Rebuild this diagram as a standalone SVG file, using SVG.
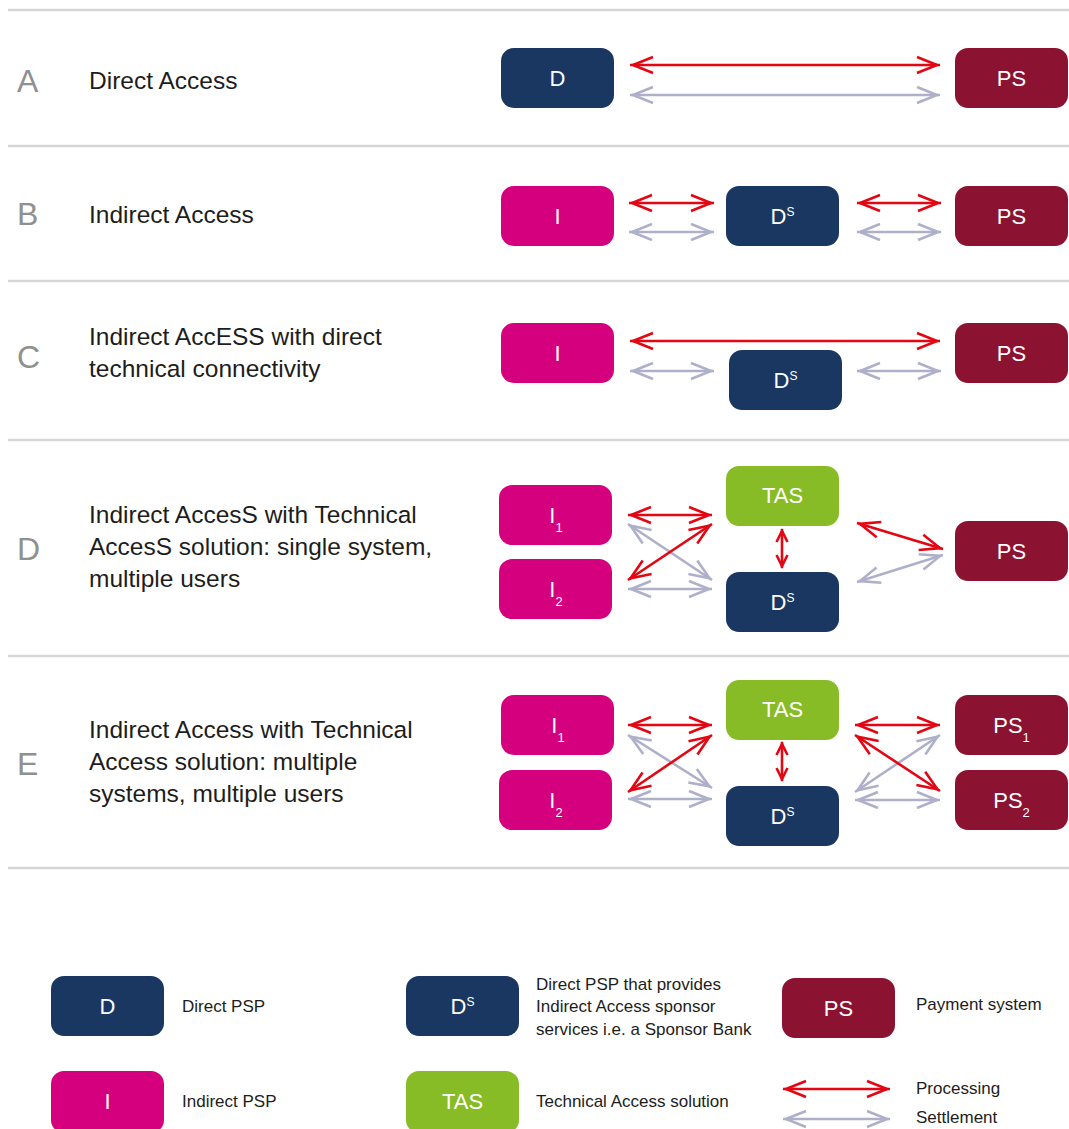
<svg xmlns="http://www.w3.org/2000/svg" width="1069" height="1129" viewBox="0 0 1069 1129">
<style>
.sep{stroke:#d6d6d6;stroke-width:2.5}
.letter{font-family:"Liberation Sans",Arial,sans-serif;font-size:32px;fill:#8f9090}
.lbl{font-family:"Liberation Sans",Arial,sans-serif;font-size:24.5px;fill:#1d1d1b}
.leg{font-family:"Liberation Sans",Arial,sans-serif;font-size:17px;fill:#1d1d1b}
.nt{font-family:"Liberation Sans",Arial,sans-serif;font-size:22px;fill:#ffffff;text-anchor:middle}
.navy{fill:#193761}
.bur{fill:#8b1230}
.mag{fill:#d5007d}
.grn{fill:#87bc26}
.r{stroke:#e30613;stroke-width:2.6;fill:none;marker-start:url(#hr);marker-end:url(#hr)}
.rs{stroke:#e30613;stroke-width:2.6;fill:none;marker-start:url(#hrs);marker-end:url(#hrs)}
.g{stroke:#aeb0c9;stroke-width:2.6;fill:none;marker-start:url(#hg);marker-end:url(#hg)}
</style>
<defs>
<marker id="hr" viewBox="-26 -12 32 24" refX="0" refY="0" markerWidth="32" markerHeight="24" markerUnits="userSpaceOnUse" orient="auto-start-reverse">
<path d="M-23,-8 L-3,0 L-23,8" fill="none" stroke="#e30613" stroke-width="2.6"/>
</marker>
<marker id="hg" viewBox="-26 -12 32 24" refX="0" refY="0" markerWidth="32" markerHeight="24" markerUnits="userSpaceOnUse" orient="auto-start-reverse">
<path d="M-23,-8 L-3,0 L-23,8" fill="none" stroke="#aeb0c9" stroke-width="2.6"/>
</marker>
<marker id="hrs" viewBox="-16 -9 22 18" refX="0" refY="0" markerWidth="22" markerHeight="18" markerUnits="userSpaceOnUse" orient="auto-start-reverse">
<path d="M-13,-5.5 L-2,0 L-13,5.5" fill="none" stroke="#e30613" stroke-width="2.6"/>
</marker>
</defs>
<rect width="1069" height="1129" fill="#ffffff"/>

<g id="separators">
<line class="sep" x1="8" y1="10" x2="1069" y2="10"/>
<line class="sep" x1="8" y1="146" x2="1069" y2="146"/>
<line class="sep" x1="8" y1="281" x2="1069" y2="281"/>
<line class="sep" x1="8" y1="440" x2="1069" y2="440"/>
<line class="sep" x1="8" y1="656" x2="1069" y2="656"/>
<line class="sep" x1="8" y1="868" x2="1069" y2="868"/>
</g>

<g id="row-labels">
<text class="letter" x="17" y="92">A</text>
<text class="lbl" x="89" y="89">Direct Access</text>
<text class="letter" x="17" y="225">B</text>
<text class="lbl" x="89" y="223">Indirect Access</text>
<text class="letter" x="17" y="368">C</text>
<text class="lbl" x="89" y="345">Indirect AccESS with direct</text>
<text class="lbl" x="89" y="377">technical connectivity</text>
<text class="letter" x="17" y="560">D</text>
<text class="lbl" x="89" y="523">Indirect AccesS with Technical</text>
<text class="lbl" x="89" y="555">AccesS solution: single system,</text>
<text class="lbl" x="89" y="587">multiple users</text>
<text class="letter" x="17" y="775">E</text>
<text class="lbl" x="89" y="738">Indirect Access with Technical</text>
<text class="lbl" x="89" y="770">Access solution: multiple</text>
<text class="lbl" x="89" y="802">systems, multiple users</text>
</g>

<g id="connectors">
<!-- Row A -->
<line class="g" x1="630" y1="95" x2="940" y2="95"/>
<line class="r" x1="630" y1="65" x2="940" y2="65"/>
<!-- Row B -->
<line class="g" x1="629" y1="232" x2="714" y2="232"/>
<line class="g" x1="857" y1="232" x2="941" y2="232"/>
<line class="r" x1="629" y1="203" x2="714" y2="203"/>
<line class="r" x1="857" y1="203" x2="941" y2="203"/>
<!-- Row C -->
<line class="g" x1="630" y1="371" x2="714" y2="371"/>
<line class="g" x1="857" y1="371" x2="941" y2="371"/>
<line class="r" x1="630" y1="341" x2="940" y2="341"/>
<!-- Row D -->
<line class="g" x1="628" y1="524" x2="712" y2="580"/>
<line class="g" x1="628" y1="589" x2="712" y2="589"/>
<line class="g" x1="857" y1="582" x2="943" y2="555"/>
<line class="r" x1="628" y1="515" x2="712" y2="515"/>
<line class="r" x1="628" y1="580" x2="712" y2="524"/>
<line class="rs" x1="782" y1="529" x2="782" y2="568"/>
<line class="r" x1="857" y1="523" x2="943" y2="549"/>
<!-- Row E -->
<line class="g" x1="628" y1="735" x2="712" y2="788"/>
<line class="g" x1="628" y1="799" x2="712" y2="799"/>
<line class="g" x1="855" y1="792" x2="940" y2="735"/>
<line class="g" x1="855" y1="800" x2="940" y2="800"/>
<line class="r" x1="628" y1="725" x2="712" y2="725"/>
<line class="r" x1="628" y1="792" x2="712" y2="735"/>
<line class="rs" x1="782" y1="742" x2="782" y2="781"/>
<line class="r" x1="855" y1="725" x2="940" y2="725"/>
<line class="r" x1="855" y1="735" x2="940" y2="791"/>
<!-- Legend -->
<line class="r" x1="783" y1="1089" x2="890" y2="1089"/>
<line class="g" x1="783" y1="1119" x2="890" y2="1119"/>
</g>

<!-- Row A nodes -->
<g id="a-d"><rect class="navy" x="501" y="48" width="113" height="60" rx="13"/><text class="nt" x="557.5" y="86">D</text></g>
<g id="a-ps"><rect class="bur" x="955" y="48" width="113" height="60" rx="13"/><text class="nt" x="1011.5" y="86">PS</text></g>

<!-- Row B nodes -->
<g id="b-i"><rect class="mag" x="501" y="186" width="113" height="60" rx="13"/><text class="nt" x="557.5" y="224">I</text></g>
<g id="b-ds"><rect class="navy" x="726" y="186" width="113" height="60" rx="13"/><text class="nt" x="782.5" y="224">D<tspan font-size="12" dy="-8">S</tspan></text></g>
<g id="b-ps"><rect class="bur" x="955" y="186" width="113" height="60" rx="13"/><text class="nt" x="1011.5" y="224">PS</text></g>

<!-- Row C nodes -->
<g id="c-i"><rect class="mag" x="501" y="323" width="113" height="60" rx="13"/><text class="nt" x="557.5" y="361">I</text></g>
<g id="c-ds"><rect class="navy" x="729" y="350" width="113" height="60" rx="13"/><text class="nt" x="785.5" y="388">D<tspan font-size="12" dy="-8">S</tspan></text></g>
<g id="c-ps"><rect class="bur" x="955" y="323" width="113" height="60" rx="13"/><text class="nt" x="1011.5" y="361">PS</text></g>

<!-- Row D nodes -->
<g id="d-i1"><rect class="mag" x="499" y="485" width="113" height="60" rx="13"/><text class="nt" x="556" y="523">I<tspan font-size="13" dy="9">1</tspan></text></g>
<g id="d-i2"><rect class="mag" x="499" y="559" width="113" height="60" rx="13"/><text class="nt" x="556" y="597">I<tspan font-size="13" dy="9">2</tspan></text></g>
<g id="d-tas"><rect class="grn" x="726" y="466" width="113" height="60" rx="13"/><text class="nt" x="782.5" y="503">TAS</text></g>
<g id="d-ds"><rect class="navy" x="726" y="572" width="113" height="60" rx="13"/><text class="nt" x="782.5" y="610">D<tspan font-size="12" dy="-8">S</tspan></text></g>
<g id="d-ps"><rect class="bur" x="955" y="521" width="113" height="60" rx="13"/><text class="nt" x="1011.5" y="559">PS</text></g>

<!-- Row E nodes -->
<g id="e-i1"><rect class="mag" x="501" y="695" width="113" height="60" rx="13"/><text class="nt" x="558" y="733">I<tspan font-size="13" dy="9">1</tspan></text></g>
<g id="e-i2"><rect class="mag" x="499" y="770" width="113" height="60" rx="13"/><text class="nt" x="556" y="808">I<tspan font-size="13" dy="9">2</tspan></text></g>
<g id="e-tas"><rect class="grn" x="726" y="680" width="113" height="60" rx="13"/><text class="nt" x="782.5" y="717">TAS</text></g>
<g id="e-ds"><rect class="navy" x="726" y="786" width="113" height="60" rx="13"/><text class="nt" x="782.5" y="824">D<tspan font-size="12" dy="-8">S</tspan></text></g>
<g id="e-ps1"><rect class="bur" x="955" y="695" width="113" height="60" rx="13"/><text class="nt" x="1011.5" y="733">PS<tspan font-size="13" dy="9">1</tspan></text></g>
<g id="e-ps2"><rect class="bur" x="955" y="770" width="113" height="60" rx="13"/><text class="nt" x="1011.5" y="808">PS<tspan font-size="13" dy="9">2</tspan></text></g>

<!-- Legend -->
<g id="leg-d"><rect class="navy" x="51" y="976" width="113" height="60" rx="13"/><text class="nt" x="107.5" y="1014">D</text><text class="leg" x="182" y="1012">Direct PSP</text></g>
<g id="leg-ds"><rect class="navy" x="406" y="976" width="113" height="60" rx="13"/><text class="nt" x="462.5" y="1014">D<tspan font-size="12" dy="-8">S</tspan></text>
<text class="leg" x="536" y="990">Direct PSP that provides</text>
<text class="leg" x="536" y="1012">Indirect Access sponsor</text>
<text class="leg" x="536" y="1035">services i.e. a Sponsor Bank</text></g>
<g id="leg-ps"><rect class="bur" x="782" y="978" width="113" height="60" rx="13"/><text class="nt" x="838.5" y="1016">PS</text><text class="leg" x="916" y="1010">Payment system</text></g>
<g id="leg-i"><rect class="mag" x="51" y="1071" width="113" height="62" rx="13"/><text class="nt" x="107.5" y="1109">I</text><text class="leg" x="182" y="1107">Indirect PSP</text></g>
<g id="leg-tas"><rect class="grn" x="406" y="1071" width="113" height="62" rx="13"/><text class="nt" x="462.5" y="1109">TAS</text><text class="leg" x="536" y="1107">Technical Access solution</text></g>
<g id="leg-arrows"><text class="leg" x="916" y="1094">Processing</text><text class="leg" x="916" y="1123">Settlement</text></g>
</svg>
